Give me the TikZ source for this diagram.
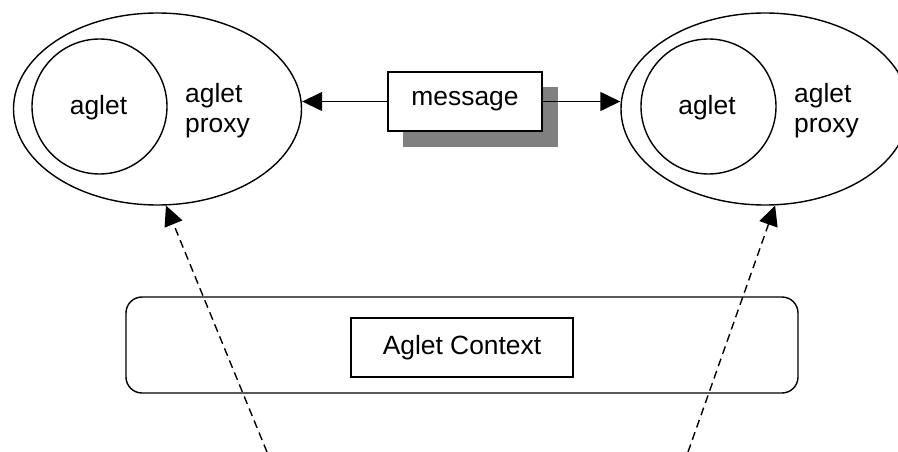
\documentclass[tikz,border=0pt]{standalone}
\usepackage{fontspec}
\setmainfont{Liberation Sans}
\usetikzlibrary{arrows.meta,shapes.geometric}
\tikzset{
  txt/.style={font=\fontsize{26.4}{30}\selectfont},
  proxyshape/.style={draw, ellipse, line width=1.4pt, minimum width=288pt,
    minimum height=192pt, inner sep=0pt},
  agletshape/.style={draw, circle, line width=1.4pt, minimum size=135pt,
    inner sep=0pt},
  agletlabel/.style={txt, inner sep=0pt},
  proxylabel/.style={txt, align=left, anchor=west, inner sep=0pt},
  msgbox/.style={draw, line width=1.4pt, fill=white, minimum width=154pt,
    minimum height=59pt, inner sep=0pt, txt},
  shadowbox/.style={fill=black!50, minimum width=155pt, minimum height=60pt,
    inner sep=0pt},
  ctxframe/.style={draw, line width=1.4pt, rounded corners=16pt,
    minimum width=672pt, minimum height=96pt, inner sep=0pt},
  ctxbox/.style={draw, line width=1.4pt, minimum width=222pt,
    minimum height=59pt, inner sep=0pt, txt},
  sendarrow/.style={line width=1.4pt, -{Triangle[length=20pt,width=19pt]}},
  refarrow/.style={line width=1.4pt, dash pattern=on 8pt off 5pt,
    -{Triangle[length=20pt,width=19pt]}}
}
\begin{document}
\begin{tikzpicture}[x=1pt, y=-1pt]
  \useasboundingbox (0,0) rectangle (898,452);

  % two aglet proxies, each wrapping its aglet
  \node[proxyshape] (L) at (157.5,109) {};
  \node[agletshape] (La) at (99.5,106.5) {};
  \node[agletlabel] (Lal) at (98.5,107.5) {aglet};
  \node[proxylabel] (Lp) at (185,110.5) {aglet\\proxy};

  \node[proxyshape] (R) at (765,109) {};
  \node[agletshape] (Ra) at (708.5,106.5) {};
  \node[agletlabel] (Ral) at (707,107.5) {aglet};
  \node[proxylabel] (Rp) at (794,110.5) {aglet\\proxy};

  % message with its drop shadow
  \node[shadowbox] (msgshadow) at (480.5,117) {};
  \node[msgbox] (msg) at (465,101.5) {message};

  \draw[sendarrow] (msg.west) -- (msg.west -| L.east);
  \draw[sendarrow] (msg.east) -- (msg.east -| R.west);

  % aglet context
  \node[ctxframe] (ctx) at (462,345) {};
  \node[ctxbox] (ctxlabel) at (462,347.5) {Aglet Context};

  % references from below to each proxy
  \coordinate (lfoot) at (267,452);
  \coordinate (rfoot) at (688,452);
  \draw[refarrow] (lfoot) -- (L.-85);
  \draw[refarrow] (rfoot) -- (R.-84);
\end{tikzpicture}
\end{document}
